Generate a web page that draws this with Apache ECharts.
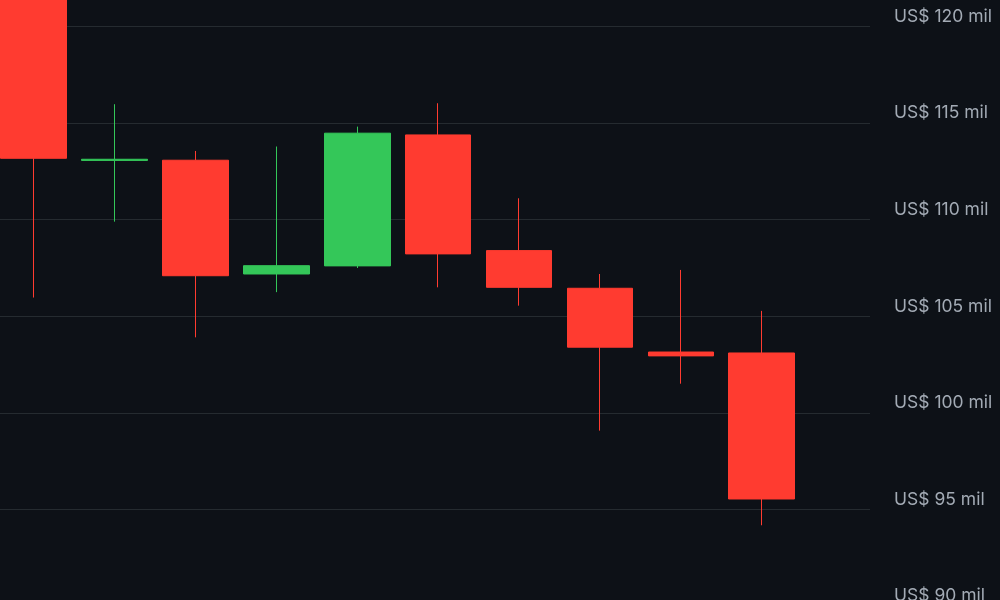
<!DOCTYPE html>
<html>
<head>
<meta charset="utf-8">
<script src="https://cdn.jsdelivr.net/npm/echarts@6/dist/echarts.min.js"></script>
<style>
html,body{margin:0;padding:0;background:#0d1117;}
#chart{width:1000px;height:600px;}
</style>
</head>
<body>
<div id="chart"></div>
<script>
const positions = [0, 1, 2, 3, 4, 5, 6, 7, 8, 9];
const opens  = [122.6, 113.07, 113.08, 107.19, 107.61, 114.39, 108.40, 106.45, 103.15, 103.10];
const closes = [113.18, 113.13, 107.10, 107.62, 114.48, 108.23, 106.50, 103.40, 102.95, 95.54];
const lows   = [105.97, 109.90, 103.91, 106.25, 107.50, 106.50, 105.55, 99.08, 101.51, 94.18];
const highs  = [123.5, 115.98, 113.56, 113.79, 114.82, 116.03, 111.11, 107.19, 107.40, 105.28];
const yTicks = { min: 90, max: 125, step: 5, prefix: 'US$ ', suffix: ' mil' };

const data = positions.map((x, i) => [x, opens[i], closes[i], lows[i], highs[i]]);

const chart = echarts.init(document.getElementById('chart'));
chart.setOption({
  backgroundColor: '#0d1117',
  animation: false,
  grid: { left: 0, right: 130, top: -70, bottom: -6, outerBoundsMode: 'none', containLabel: false },
  xAxis: {
    type: 'value',
    min: -0.4166,
    max: 10.339,
    show: false,
    splitLine: { show: false }
  },
  yAxis: {
    type: 'value',
    position: 'right',
    min: yTicks.min,
    max: yTicks.max,
    interval: yTicks.step,
    axisLine: { show: false },
    axisTick: { show: false },
    splitLine: { lineStyle: { color: '#252b30', width: 1 } },
    axisLabel: {
      margin: 24,
      color: '#a3abb5',
      fontFamily: 'Inter',
      fontSize: 17.5,
      verticalAlign: 'bottom',
      padding: [0, 0, 1, 0],
      formatter: v => yTicks.prefix + v + yTicks.suffix
    }
  },
  series: [{
    type: 'candlestick',
    barWidth: 66,
    data: data,
    itemStyle: {
      color: '#34c759',
      color0: '#ff3b30',
      borderColor: '#34c759',
      borderColor0: '#ff3b30',
      borderWidth: 1
    }
  }]
});
</script>
</body>
</html>
